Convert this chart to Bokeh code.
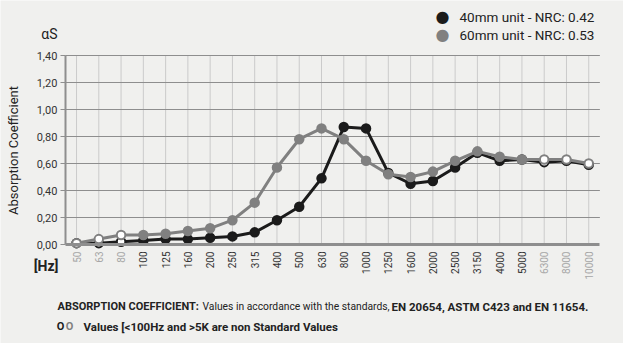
import math
from bokeh.plotting import figure
from bokeh.models import (ColumnDataSource, Range1d, Label, LinearAxis,
                          FixedTicker, CustomJSTickFormatter)
from bokeh.embed import file_html
from bokeh.resources import INLINE

# ---------------- data ----------------
freqs = ["50", "63", "80", "100", "125", "160", "200", "250", "315", "400", "500",
         "630", "800", "1000", "1250", "1600", "2000", "2500", "3150", "4000",
         "5000", "6300", "8000", "10000"]
unit40 = [0.01, 0.01, 0.02, 0.03, 0.04, 0.04, 0.05, 0.06, 0.09, 0.18, 0.28,
          0.49, 0.87, 0.86, 0.53, 0.45, 0.47, 0.57, 0.68, 0.62, 0.63, 0.61, 0.62, 0.59]
unit60 = [0.01, 0.04, 0.07, 0.07, 0.08, 0.10, 0.12, 0.18, 0.31, 0.57, 0.78,
          0.86, 0.78, 0.62, 0.52, 0.50, 0.54, 0.62, 0.69, 0.65, 0.63, 0.63, 0.63, 0.60]
non_standard = ["50", "63", "80", "6300", "8000", "10000"]
y_ticks = [0.0, 0.2, 0.4, 0.6, 0.8, 1.0, 1.2, 1.4]
series_labels = ["40mm unit - NRC: 0.42", "60mm unit - NRC: 0.53"]

BLACK = "#1b1b1b"
GRAY = "#808080"
BG = "#f0f0ee"
TXT = "#222222"
FONT = "Roboto"

W, H = 623, 343
n = len(freqs)
xpos = [i + 0.5 for i in range(n)]          # category centres (one unit per band)

# frame covers the whole canvas; ranges chosen so the plot area sits where it should
step_px = 22.27
left_px = 64.9
y0_px, px_per_unit = 244.0, 135.0
x_range = Range1d(-left_px / step_px, (W - left_px) / step_px)
y_range = Range1d(-(H - y0_px) / px_per_unit, y0_px / px_per_unit)

p = figure(width=W, height=H, x_range=x_range, y_range=y_range,
           output_backend="svg", toolbar_location=None, min_border=0)
p.title.visible = False
p.background_fill_color = BG
p.border_fill_color = BG
p.outline_line_color = None
p.grid.visible = False

# grid lines limited to the plot area
p.segment(x0=xpos, y0=[0] * n, x1=xpos, y1=[max(y_ticks)] * n,
          line_color="#cbcbcb", line_width=1)
p.segment(x0=[0] * len(y_ticks[1:]), y0=y_ticks[1:], x1=[n] * len(y_ticks[1:]), y1=y_ticks[1:],
          line_color="#8e8e8e", line_width=1)

# y axis (fixed at the left edge of the plot area)
ya = p.yaxis[0]
ya.fixed_location = 0
ya.bounds = (0, max(y_ticks))
ya.ticker = FixedTicker(ticks=y_ticks)
ya.formatter = CustomJSTickFormatter(code="return tick.toFixed(2).replace('.', ',');")
ya.axis_line_color = "#8e8e8e"
ya.axis_line_width = 2
ya.major_tick_line_color = "#8e8e8e"
ya.major_tick_out = 5
ya.major_tick_in = 0
ya.minor_tick_line_color = None
ya.major_label_text_font = FONT
ya.major_label_text_font_size = "11px"
ya.major_label_text_color = "#333333"
ya.major_label_standoff = 3

# x axes (standard / non-standard frequencies in different colours)
fmt = CustomJSTickFormatter(args=dict(labels=freqs),
                            code="return labels[Math.floor(tick)];")
std_ticks = [x for x, f in zip(xpos, freqs) if f not in non_standard]
nst_ticks = [x for x, f in zip(xpos, freqs) if f in non_standard]

xa = p.xaxis[0]
xa2 = LinearAxis()
p.add_layout(xa2, "below")
for ax, ticks, col in ((xa, std_ticks, "#333333"), (xa2, nst_ticks, "#a6a6a6")):
    ax.fixed_location = 0
    ax.bounds = (0, n)
    ax.ticker = FixedTicker(ticks=ticks)
    ax.formatter = fmt
    ax.major_label_orientation = math.pi / 2
    ax.major_tick_line_color = None
    ax.major_tick_out = 0
    ax.major_tick_in = 0
    ax.minor_tick_line_color = None
    ax.major_label_standoff = 7
    ax.major_label_text_font = FONT
    ax.major_label_text_font_size = "10px"
    ax.major_label_text_color = col
xa.axis_line_color = "#8e8e8e"
xa.axis_line_width = 3
xa2.axis_line_color = None

# series
def draw(vals, color):
    fill = ["white" if f in non_standard else color for f in freqs]
    src = ColumnDataSource(dict(x=xpos, v=vals, fill=fill))
    p.line("x", "v", source=src, line_color=color, line_width=3)
    p.scatter("x", "v", source=src, size=8.5, fill_color="fill", line_color=color, line_width=2)

draw(unit40, BLACK)
draw(unit60, GRAY)

# texts (screen coordinates measured from the bottom-left of the canvas)
def lab(x, y, text, size, color=TXT, font=FONT, style="normal",
        angle=0.0, align="left", baseline="middle"):
    p.add_layout(Label(x=x, y=H - y, x_units="screen", y_units="screen", text=text,
                       text_font=font, text_font_size=size, text_color=color,
                       text_font_style=style, angle=angle, text_align=align,
                       text_baseline=baseline))

lab(57, 33, "αS", "14px", align="right")
lab(13, 150, "Absorption Coefficient", "13px", angle=math.pi / 2, align="center")
lab(58, 265, "[Hz]", "14px", style="bold", align="right")

# legend
lab(442, 16, "●", "16px", color=BLACK, align="center", font="DejaVu Sans")
lab(442, 34, "●", "16px", color=GRAY, align="center", font="DejaVu Sans")
lab(459, 16, series_labels[0], "13.5px")
lab(459, 34, series_labels[1], "13.5px")

# notes
lab(57, 306, "ABSORPTION COEFFICIENT:", "11px", style="bold")
lab(202, 306, "Values in accordance with the standards,", "10.3px")
lab(391, 306, "EN 20654, ASTM C423 and EN 11654.", "11.5px", style="bold")
lab(60, 326, "O", "11px", color=BLACK, style="bold", align="center")
lab(69, 326, "O", "11px", color=GRAY, style="bold", align="center")
lab(83, 326, "Values [<100Hz and >5K are non Standard Values", "11.5px", style="bold")

open("out.html", "w").write(file_html(p, INLINE))
